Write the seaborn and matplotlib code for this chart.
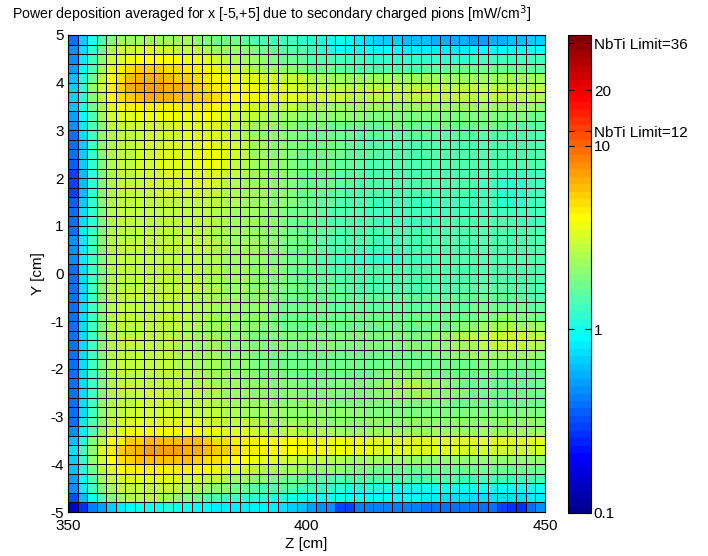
import matplotlib
matplotlib.use("Agg")
import matplotlib.pyplot as plt
from matplotlib.colors import LogNorm, ListedColormap
import seaborn as sns
import numpy as np

# cell edges of the pcolor grid
z_edges = np.linspace(350, 450, 51)
y_edges = np.linspace(-5, 5, 51)

# power deposition [mW/cm^3], one row per Y bin, from Y=+5 (top) down to Y=-5
power_rows = [
    [0.4,0.7,1.1,1.5,1.9,2.2,2.3,2.4,2.4,2.4, 2.3,2.3,2.2,2.1,1.9,1.8,1.8,1.7,1.6,1.5, 1.4,1.3,1.3,1.3,1.2,1.2,1.1,1.0,0.95,0.9, 0.85,0.75,0.7,0.7,0.7,0.65,0.65,0.6,0.55,0.55, 0.55,0.55,0.5,0.5,0.55,0.55,0.6,0.65,0.7,0.7],
    [0.45,0.75,1.2,1.8,2.5,3.0,3.1,3.1,3.2,3.1, 3.0,2.9,2.8,2.7,2.5,2.4,2.3,2.2,2.0,1.9, 1.7,1.6,1.5,1.4,1.4,1.3,1.2,1.1,1.0,1.0, 0.95,0.95,0.9,0.9,0.9,0.85,0.85,0.85,0.85,0.85, 0.85,0.85,0.9,0.9,0.9,0.9,0.95,0.95,1.0,1.0],
    [0.45,0.8,1.3,2.1,3.0,3.5,3.8,4.0,4.1,4.1, 4.0,3.9,3.8,3.6,3.2,3.0,2.8,2.6,2.4,2.2, 2.0,1.9,1.8,1.7,1.6,1.5,1.4,1.4,1.3,1.3, 1.3,1.2,1.2,1.2,1.2,1.2,1.2,1.2,1.2,1.2, 1.2,1.2,1.3,1.3,1.3,1.3,1.3,1.3,1.3,1.3],
    [0.5,0.9,1.5,2.4,3.5,4.3,4.8,5.2,5.3,5.2, 5.0,4.8,4.5,4.3,3.9,3.6,3.3,3.0,2.8,2.6, 2.4,2.2,2.1,2.0,1.9,1.8,1.7,1.7,1.6,1.6, 1.5,1.5,1.5,1.5,1.5,1.5,1.5,1.6,1.6,1.6, 1.7,1.7,1.7,1.7,1.7,1.7,1.7,1.7,1.6,1.6],
    [0.6,1.1,1.8,2.8,4.0,5.0,5.8,6.3,6.5,6.3, 6.0,5.6,5.2,4.9,4.5,4.2,3.9,3.7,3.5,3.3, 3.1,3.0,2.9,2.8,2.7,2.6,2.5,2.4,2.4,2.3, 2.3,2.3,2.2,2.2,2.2,2.2,2.2,2.3,2.3,2.3, 2.3,2.4,2.4,2.4,2.4,2.4,2.3,2.3,2.2,2.2],
    [0.7,1.2,2.0,3.0,4.3,5.3,6.2,6.8,7.0,6.8, 6.5,6.2,5.8,5.4,5.0,4.6,4.3,4.0,3.8,3.6, 3.4,3.3,3.2,3.1,3.0,2.9,2.9,2.8,2.8,2.8, 2.7,2.7,2.7,2.7,2.7,2.7,2.7,2.7,2.8,2.8, 2.8,2.8,2.9,2.9,2.9,2.9,2.9,2.8,2.8,2.7],
    [0.7,1.2,1.9,2.9,4.0,4.8,5.5,6.0,6.2,6.3, 6.2,6.0,5.7,5.5,5.2,4.8,4.5,4.2,4.0,3.8, 3.6,3.5,3.4,3.3,3.2,3.1,3.0,3.0,3.0,2.9, 2.9,2.9,2.9,2.8,2.8,2.8,2.8,2.8,2.8,2.8, 2.8,2.8,2.8,2.8,2.8,2.8,2.7,2.7,2.6,2.6],
    [0.6,1.1,1.7,2.6,3.5,4.0,4.3,4.5,4.6,4.6, 4.6,4.5,4.5,4.4,4.3,4.0,3.7,3.4,3.2,3.1, 3.0,2.9,2.8,2.7,2.6,2.5,2.5,2.4,2.4,2.3, 2.3,2.3,2.3,2.3,2.3,2.3,2.3,2.3,2.3,2.3, 2.3,2.3,2.3,2.3,2.3,2.3,2.2,2.2,2.2,2.1],
    [0.5,0.9,1.5,2.3,3.0,3.3,3.5,3.6,3.6,3.6, 3.6,3.6,3.7,3.8,3.9,3.7,3.4,3.1,2.9,2.7, 2.5,2.4,2.3,2.2,2.1,2.1,2.0,2.0,2.0,2.0, 2.0,1.9,1.9,1.9,1.9,1.9,1.9,1.9,1.9,1.9, 1.9,1.9,1.9,1.9,1.9,1.9,1.9,1.9,1.8,1.8],
    [0.45,0.8,1.4,2.1,2.7,2.9,3.0,3.1,3.1,3.1, 3.1,3.2,3.3,3.4,3.4,3.3,3.1,2.8,2.6,2.4, 2.2,2.1,2.0,2.0,1.9,1.9,1.9,1.8,1.8,1.8, 1.8,1.8,1.7,1.7,1.7,1.7,1.7,1.7,1.7,1.7, 1.7,1.7,1.7,1.7,1.7,1.7,1.7,1.6,1.6,1.6],
    [0.4,0.75,1.3,2.0,2.6,2.8,2.9,2.9,3.0,3.0, 3.0,3.1,3.2,3.3,3.4,3.3,3.1,2.8,2.5,2.3, 2.1,2.0,2.0,1.9,1.9,1.8,1.8,1.7,1.7,1.7, 1.6,1.6,1.6,1.6,1.6,1.6,1.6,1.6,1.6,1.6, 1.6,1.6,1.5,1.5,1.5,1.5,1.4,1.4,1.4,1.4],
    [0.4,0.7,1.3,2.0,2.6,2.8,2.9,3.0,3.0,3.1, 3.2,3.3,3.4,3.5,3.6,3.5,3.3,3.0,2.7,2.4, 2.2,2.1,2.0,1.9,1.9,1.8,1.8,1.7,1.7,1.7, 1.6,1.6,1.6,1.5,1.5,1.5,1.5,1.5,1.5,1.5, 1.5,1.5,1.5,1.5,1.5,1.5,1.4,1.4,1.4,1.4],
    [0.4,0.7,1.2,1.9,2.5,2.8,2.9,3.0,3.1,3.2, 3.3,3.4,3.5,3.7,3.8,3.7,3.4,3.0,2.7,2.4, 2.2,2.1,2.0,1.9,1.8,1.8,1.7,1.7,1.7,1.6, 1.6,1.6,1.5,1.5,1.5,1.5,1.5,1.5,1.5,1.5, 1.5,1.5,1.5,1.5,1.5,1.4,1.4,1.4,1.4,1.4],
    [0.35,0.7,1.2,1.9,2.5,2.8,2.9,3.0,3.1,3.2, 3.3,3.4,3.5,3.7,3.8,3.6,3.3,2.9,2.6,2.4, 2.2,2.1,2.0,1.9,1.8,1.8,1.7,1.7,1.6,1.6, 1.6,1.5,1.5,1.5,1.5,1.5,1.5,1.5,1.5,1.5, 1.5,1.5,1.5,1.4,1.4,1.4,1.4,1.4,1.4,1.4],
    [0.3,0.65,1.2,1.9,2.5,2.8,2.9,3.0,3.0,3.1, 3.2,3.3,3.4,3.5,3.5,3.3,3.0,2.7,2.5,2.3, 2.2,2.1,2.0,1.9,1.8,1.8,1.7,1.7,1.6,1.6, 1.6,1.5,1.5,1.5,1.5,1.5,1.5,1.5,1.5,1.5, 1.4,1.4,1.4,1.4,1.4,1.3,1.3,1.3,1.3,1.3],
    [0.3,0.65,1.2,1.9,2.5,2.8,2.9,2.9,3.0,3.0, 3.1,3.1,3.2,3.2,3.2,3.0,2.8,2.6,2.4,2.3, 2.2,2.1,2.0,1.9,1.8,1.8,1.7,1.7,1.6,1.6, 1.5,1.5,1.5,1.5,1.5,1.5,1.5,1.5,1.4,1.4, 1.4,1.4,1.4,1.3,1.3,1.2,1.2,1.2,1.3,1.3],
    [0.3,0.65,1.2,1.9,2.5,2.8,2.9,2.9,2.9,3.0, 3.0,3.0,3.0,3.0,2.9,2.8,2.6,2.5,2.4,2.3, 2.2,2.1,2.0,1.9,1.8,1.7,1.7,1.6,1.6,1.5, 1.5,1.5,1.5,1.4,1.4,1.4,1.4,1.4,1.4,1.4, 1.4,1.4,1.3,1.3,1.3,1.2,1.2,1.2,1.3,1.3],
    [0.35,0.7,1.2,1.9,2.5,2.7,2.8,2.9,2.9,2.9, 2.9,2.9,2.9,2.9,2.8,2.7,2.6,2.5,2.4,2.3, 2.2,2.1,2.0,1.9,1.8,1.7,1.6,1.6,1.5,1.5, 1.4,1.4,1.3,1.3,1.3,1.3,1.3,1.3,1.3,1.3, 1.3,1.3,1.3,1.3,1.3,1.2,1.2,1.2,1.3,1.3],
    [0.4,0.75,1.2,1.9,2.5,2.7,2.8,2.8,2.9,2.9, 2.9,2.9,2.9,2.8,2.7,2.6,2.5,2.4,2.3,2.2, 2.1,2.0,1.9,1.8,1.7,1.7,1.6,1.5,1.5,1.4, 1.4,1.3,1.3,1.3,1.3,1.3,1.3,1.3,1.3,1.3, 1.3,1.3,1.3,1.3,1.3,1.3,1.3,1.3,1.3,1.3],
    [0.4,0.75,1.2,1.9,2.5,2.7,2.8,2.9,2.9,2.9, 2.9,2.9,2.8,2.8,2.7,2.6,2.5,2.4,2.3,2.2, 2.1,2.0,1.9,1.8,1.7,1.7,1.6,1.5,1.5,1.4, 1.4,1.4,1.3,1.3,1.3,1.3,1.3,1.3,1.3,1.4, 1.4,1.4,1.4,1.4,1.4,1.4,1.4,1.3,1.3,1.3],
    [0.4,0.8,1.3,1.9,2.5,2.7,2.8,2.9,2.9,2.9, 2.9,2.9,2.8,2.8,2.7,2.6,2.5,2.4,2.3,2.2, 2.1,2.0,1.9,1.8,1.8,1.7,1.6,1.6,1.5,1.5, 1.4,1.4,1.4,1.4,1.4,1.4,1.4,1.4,1.4,1.4, 1.4,1.4,1.4,1.4,1.4,1.4,1.4,1.4,1.4,1.4],
    [0.45,0.8,1.3,1.9,2.5,2.7,2.8,2.9,2.9,2.9, 2.9,2.9,2.9,2.8,2.7,2.6,2.5,2.4,2.3,2.2, 2.1,2.0,1.9,1.8,1.8,1.7,1.6,1.5,1.5,1.4, 1.4,1.4,1.3,1.3,1.3,1.4,1.4,1.4,1.4,1.4, 1.4,1.4,1.4,1.4,1.4,1.4,1.4,1.4,1.4,1.4],
    [0.45,0.85,1.3,1.9,2.5,2.7,2.8,2.9,2.9,2.9, 2.9,2.9,2.8,2.8,2.7,2.6,2.5,2.4,2.3,2.2, 2.1,2.0,1.9,1.8,1.8,1.7,1.6,1.5,1.4,1.4, 1.3,1.3,1.3,1.3,1.3,1.3,1.4,1.4,1.4,1.4, 1.4,1.4,1.4,1.4,1.4,1.4,1.4,1.4,1.4,1.4],
    [0.45,0.8,1.3,1.9,2.5,2.7,2.8,2.9,2.9,2.9, 2.9,2.8,2.8,2.7,2.6,2.5,2.4,2.3,2.2,2.1, 2.0,1.9,1.9,1.8,1.7,1.6,1.5,1.4,1.3,1.3, 1.2,1.2,1.2,1.2,1.2,1.3,1.3,1.3,1.4,1.4, 1.4,1.4,1.4,1.4,1.4,1.4,1.4,1.4,1.4,1.4],
    [0.4,0.75,1.3,1.9,2.5,2.7,2.8,2.9,2.9,2.9, 2.9,2.8,2.8,2.7,2.6,2.5,2.4,2.3,2.2,2.1, 2.0,2.0,1.9,1.8,1.7,1.7,1.6,1.5,1.5,1.4, 1.4,1.4,1.4,1.4,1.4,1.4,1.4,1.4,1.4,1.4, 1.4,1.4,1.4,1.4,1.4,1.4,1.4,1.4,1.4,1.4],
    [0.4,0.75,1.3,1.9,2.5,2.7,2.8,2.9,2.9,2.9, 2.9,2.8,2.8,2.7,2.6,2.5,2.4,2.3,2.2,2.1, 2.0,1.9,1.9,1.8,1.7,1.7,1.6,1.6,1.5,1.5, 1.5,1.5,1.5,1.5,1.5,1.5,1.5,1.5,1.5,1.5, 1.5,1.5,1.5,1.5,1.5,1.5,1.5,1.5,1.4,1.4],
    [0.4,0.75,1.3,1.9,2.5,2.7,2.8,2.9,2.9,2.9, 2.9,2.8,2.8,2.7,2.6,2.5,2.4,2.3,2.2,2.1, 2.0,1.9,1.9,1.8,1.8,1.7,1.7,1.6,1.6,1.6, 1.5,1.5,1.5,1.5,1.5,1.5,1.5,1.5,1.5,1.5, 1.5,1.6,1.6,1.6,1.6,1.6,1.6,1.5,1.5,1.5],
    [0.4,0.75,1.3,1.9,2.5,2.7,2.8,2.8,2.9,2.9, 2.8,2.8,2.7,2.6,2.5,2.4,2.3,2.2,2.1,2.0, 2.0,1.9,1.8,1.8,1.7,1.7,1.6,1.6,1.6,1.6, 1.6,1.6,1.6,1.6,1.6,1.6,1.6,1.6,1.6,1.6, 1.6,1.6,1.6,1.6,1.6,1.6,1.6,1.6,1.5,1.5],
    [0.4,0.75,1.3,1.9,2.5,2.7,2.8,2.8,2.9,2.9, 2.8,2.8,2.7,2.6,2.5,2.4,2.3,2.2,2.1,2.0, 2.0,1.9,1.8,1.8,1.7,1.7,1.7,1.6,1.6,1.6, 1.6,1.6,1.6,1.6,1.6,1.6,1.6,1.6,1.6,1.6, 1.6,1.6,1.7,1.7,1.7,1.7,1.7,1.7,1.6,1.6],
    [0.4,0.75,1.3,1.9,2.5,2.7,2.8,2.8,2.9,2.9, 2.8,2.7,2.7,2.6,2.5,2.4,2.3,2.2,2.1,2.0, 2.0,1.9,1.8,1.8,1.7,1.7,1.7,1.7,1.7,1.7, 1.7,1.7,1.7,1.7,1.7,1.7,1.7,1.7,1.7,1.7, 1.7,1.8,1.8,1.9,1.9,2.0,2.0,1.9,1.9,1.8],
    [0.4,0.75,1.3,1.9,2.5,2.7,2.8,2.8,2.8,2.8, 2.8,2.7,2.6,2.5,2.4,2.3,2.2,2.1,2.0,2.0, 1.9,1.9,1.8,1.8,1.8,1.8,1.8,1.8,1.8,1.8, 1.8,1.8,1.8,1.8,1.8,1.8,1.8,1.8,1.8,1.8, 1.9,2.0,2.1,2.3,2.4,2.5,2.5,2.4,2.3,2.2],
    [0.4,0.75,1.3,1.9,2.5,2.7,2.8,2.8,2.8,2.8, 2.7,2.6,2.5,2.4,2.3,2.2,2.1,2.0,2.0,1.9, 1.9,1.9,1.9,1.9,1.9,1.9,1.9,1.9,1.9,1.9, 1.9,1.9,1.9,1.9,1.9,1.9,1.9,1.9,2.0,2.1, 2.3,2.5,2.7,2.9,3.0,3.1,3.1,3.0,2.9,2.7],
    [0.4,0.75,1.3,1.9,2.5,2.7,2.8,2.8,2.8,2.8, 2.7,2.6,2.5,2.4,2.3,2.2,2.1,2.0,2.0,1.9, 1.9,1.9,1.9,1.9,1.9,1.9,1.9,1.9,1.9,1.9, 1.9,1.9,1.9,1.9,1.9,1.9,1.9,1.9,2.0,2.1, 2.2,2.4,2.6,2.8,2.9,3.0,3.0,2.9,2.8,2.6],
    [0.4,0.75,1.3,1.9,2.5,2.7,2.8,2.8,2.8,2.8, 2.7,2.6,2.5,2.4,2.3,2.2,2.1,2.0,2.0,1.9, 1.9,1.8,1.8,1.8,1.8,1.8,1.8,1.8,1.8,1.8, 1.8,1.8,1.8,1.8,1.8,1.8,1.8,1.8,1.9,1.9, 2.0,2.1,2.2,2.3,2.4,2.4,2.4,2.3,2.2,2.1],
    [0.4,0.75,1.3,1.9,2.5,2.7,2.8,2.8,2.8,2.8, 2.7,2.6,2.5,2.4,2.3,2.2,2.1,2.0,2.0,1.9, 1.9,1.8,1.8,1.8,1.8,1.8,1.8,1.8,1.8,1.8, 1.8,1.8,1.8,1.8,1.8,1.8,1.8,1.8,1.8,1.8, 1.8,1.8,1.8,1.9,1.9,1.9,1.9,1.8,1.8,1.8],
    [0.4,0.75,1.3,1.9,2.5,2.7,2.8,2.8,2.9,2.9, 2.8,2.7,2.6,2.5,2.4,2.3,2.2,2.1,2.0,2.0, 1.9,1.9,1.8,1.8,1.8,1.8,1.8,1.8,1.8,1.8, 1.8,1.8,1.9,1.9,2.0,2.0,2.0,1.9,1.8,1.8, 1.7,1.7,1.7,1.7,1.7,1.7,1.7,1.7,1.7,1.7],
    [0.4,0.75,1.3,1.9,2.5,2.7,2.8,2.9,2.9,2.9, 2.9,2.8,2.7,2.6,2.5,2.4,2.3,2.2,2.1,2.0, 2.0,1.9,1.9,1.9,1.9,1.9,1.9,1.9,1.9,1.9, 1.9,1.9,2.0,2.2,2.4,2.6,2.6,2.4,2.2,2.0, 1.9,1.8,1.8,1.7,1.7,1.7,1.7,1.7,1.7,1.7],
    [0.4,0.75,1.3,1.9,2.5,2.8,2.9,2.9,3.0,3.0, 2.9,2.9,2.8,2.7,2.6,2.5,2.4,2.3,2.2,2.1, 2.1,2.0,2.0,2.0,1.9,1.9,1.9,1.9,1.9,1.9, 1.9,1.9,2.0,2.1,2.2,2.3,2.3,2.2,2.1,2.0, 1.9,1.9,1.8,1.8,1.8,1.8,1.8,1.8,1.8,1.8],
    [0.4,0.75,1.3,2.0,2.6,2.8,2.9,3.0,3.0,3.0, 3.0,2.9,2.9,2.8,2.7,2.6,2.5,2.4,2.3,2.2, 2.2,2.1,2.1,2.0,2.0,2.0,2.0,1.9,1.9,1.9, 1.9,1.9,1.9,1.9,1.9,1.9,1.9,1.9,1.9,1.9, 1.8,1.8,1.8,1.8,1.8,1.8,1.8,1.8,1.8,1.8],
    [0.4,0.75,1.3,2.0,2.6,2.9,3.0,3.0,3.1,3.1, 3.1,3.0,3.0,2.9,2.8,2.7,2.6,2.5,2.4,2.3, 2.3,2.2,2.2,2.1,2.1,2.1,2.0,2.0,2.0,2.0, 2.0,1.9,1.9,1.9,1.9,1.9,1.9,1.9,1.9,1.9, 1.9,1.9,1.9,1.9,1.9,1.9,1.9,1.9,1.9,1.9],
    [0.4,0.8,1.4,2.1,2.8,3.1,3.2,3.3,3.4,3.4, 3.4,3.4,3.3,3.2,3.1,3.0,2.9,2.8,2.7,2.6, 2.5,2.4,2.4,2.3,2.3,2.2,2.2,2.1,2.1,2.1, 2.0,2.0,2.0,2.0,2.0,2.0,2.0,2.0,2.0,2.0, 2.0,2.0,2.0,2.0,2.0,2.0,2.0,2.0,2.0,2.0],
    [0.45,0.85,1.5,2.3,3.0,3.4,3.6,3.8,3.9,4.0, 4.0,4.0,4.0,3.9,3.8,3.7,3.5,3.4,3.2,3.1, 3.0,2.9,2.8,2.7,2.6,2.6,2.5,2.5,2.4,2.4, 2.4,2.3,2.3,2.3,2.3,2.3,2.3,2.2,2.2,2.2, 2.2,2.2,2.2,2.2,2.2,2.2,2.2,2.2,2.2,2.2],
    [0.6,1.1,1.9,2.9,3.9,4.6,5.2,5.6,5.9,6.0, 6.1,6.0,5.9,5.7,5.4,5.1,4.8,4.6,4.4,4.3, 4.2,4.1,4.0,3.9,3.9,3.8,3.8,3.7,3.7,3.6, 3.6,3.5,3.5,3.5,3.4,3.4,3.4,3.3,3.3,3.3, 3.3,3.2,3.2,3.2,3.2,3.2,3.2,3.2,3.2,3.3],
    [0.75,1.3,2.1,3.2,4.3,5.2,6.0,6.5,6.8,7.0, 7.0,6.9,6.7,6.4,6.0,5.6,5.2,4.9,4.6,4.4, 4.3,4.2,4.1,4.0,4.0,3.9,3.9,3.8,3.7,3.7, 3.6,3.6,3.5,3.5,3.4,3.4,3.3,3.3,3.2,3.2, 3.2,3.1,3.1,3.1,3.1,3.1,3.1,3.1,3.1,3.1],
    [0.7,1.2,2.0,3.0,4.0,4.8,5.4,5.8,6.0,6.1, 6.0,5.9,5.7,5.4,5.1,4.8,4.5,4.2,3.9,3.7, 3.5,3.3,3.1,3.0,2.9,2.8,2.7,2.6,2.5,2.4, 2.4,2.3,2.3,2.2,2.2,2.2,2.1,2.1,2.1,2.1, 2.1,2.1,2.1,2.1,2.1,2.1,2.1,2.1,2.1,2.1],
    [0.6,1.1,1.8,2.7,3.5,4.0,4.3,4.5,4.6,4.6, 4.5,4.4,4.3,4.1,3.9,3.6,3.4,3.2,3.0,2.8, 2.6,2.5,2.4,2.3,2.2,2.1,2.1,2.0,2.0,1.9, 1.9,1.9,1.8,1.8,1.8,1.8,1.8,1.8,1.8,1.8, 1.8,1.8,1.8,1.8,1.8,1.8,1.8,1.8,1.8,1.8],
    [0.5,0.9,1.5,2.2,2.8,3.1,3.3,3.4,3.4,3.4, 3.3,3.2,3.1,3.0,2.9,2.7,2.6,2.4,2.3,2.1, 2.0,1.9,1.8,1.7,1.7,1.6,1.6,1.5,1.5,1.5, 1.4,1.4,1.4,1.4,1.4,1.4,1.4,1.4,1.4,1.4, 1.4,1.3,1.3,1.3,1.3,1.3,1.3,1.3,1.3,1.3],
    [0.45,0.8,1.3,1.9,2.4,2.7,2.8,2.9,2.9,2.9, 2.8,2.7,2.6,2.5,2.3,2.1,2.0,1.8,1.7,1.6, 1.5,1.5,1.4,1.4,1.3,1.3,1.2,1.2,1.2,1.1, 1.1,1.1,1.1,1.1,1.0,1.0,1.0,1.0,1.0,1.0, 1.0,1.0,1.0,1.0,1.0,1.0,1.0,1.0,1.0,1.0],
    [0.32,0.65,0.95,1.4,1.9,2.3,2.5,2.6,2.6,2.5, 2.2,2.0,1.9,1.8,1.5,1.4,1.3,1.3,1.2,1.2, 1.2,1.1,1.1,1.0,1.0,1.0,0.95,0.95,0.95,0.95, 0.95,0.9,0.9,0.9,0.9,0.9,0.9,0.8,0.8,0.75, 0.75,0.75,0.75,0.75,0.75,0.75,0.75,0.75,0.8,0.8],
    [0.15,0.27,0.42,0.5,0.7,0.85,0.9,0.95,0.95,1.0, 1.05,1.0,0.95,0.9,0.9,0.85,0.85,0.85,0.85,0.8, 0.8,0.8,0.75,0.7,0.6,0.5,0.45,0.45,0.3,0.3, 0.42,0.42,0.42,0.42,0.42,0.42,0.42,0.4,0.4,0.4, 0.4,0.4,0.4,0.4,0.4,0.3,0.28,0.28,0.4,0.45],
]

z_ticks = [350, 400, 450]
y_ticks = [5, 4, 3, 2, 1, 0, -1, -2, -3, -4, -5]
cbar_ticks = [0.1, 1, 10, 12, 20, 36]
cbar_labels = ["0.1", "1", "10", "NbTi Limit=12", "20", "NbTi Limit=36"]
c_min, c_max = 0.1, 40


def matlab_jet(m=64):
    # same construction as MATLAB's jet(m)
    n = int(np.ceil(m / 4))
    u = np.concatenate([np.arange(1, n + 1) / n, np.ones(n - 1), np.arange(n, 0, -1) / n])
    g = int(np.ceil(n / 2)) - (1 if m % 4 == 1 else 0) + np.arange(1, len(u) + 1)
    rgb = np.zeros((m, 3))
    for ch, idx in enumerate([g + n, g, g - n]):
        keep = (idx >= 1) & (idx <= m)
        rgb[idx[keep] - 1, ch] = u[keep]
    return ListedColormap(rgb)


plt.rcParams["font.family"] = ["Liberation Sans", "DejaVu Sans"]

power = np.array(power_rows)

fig = plt.figure(figsize=(7.08, 5.56), dpi=100)
ax = fig.add_axes([68 / 708, 1 - 512 / 556, 477 / 708, 477 / 556])
cax = fig.add_axes([568 / 708, 1 - 513 / 556, 23 / 708, 478 / 556])

sns.heatmap(power, ax=ax, cbar_ax=cax, cmap=matlab_jet(64), norm=LogNorm(c_min, c_max),
            linewidths=0.7, linecolor="black",
            xticklabels=False, yticklabels=False)

for sp in ax.spines.values():
    sp.set_visible(True)
    sp.set_color("black")
    sp.set_linewidth(0.8)

# heatmap cells sit at 0..50 on both axes, row 0 at the top
col_idx = np.arange(len(z_edges))
ax.set_xticks(np.interp(z_ticks, z_edges, col_idx), labels=[str(z) for z in z_ticks],
              rotation=0)
ax.set_yticks(np.interp(y_ticks, y_edges, col_idx[::-1]), labels=[str(y) for y in y_ticks],
              rotation=0)
ax.tick_params(direction="in", length=3, labelsize=11, bottom=True, left=True)
ax.tick_params(axis="x", pad=5)
ax.tick_params(axis="y", pad=3)
ax.set_xlabel("Z [cm]", fontsize=11, labelpad=3)
ax.set_ylabel("Y [cm]", fontsize=11, labelpad=4)

cb = ax.collections[0].colorbar
cb.set_ticks(cbar_ticks, labels=cbar_labels)
cb.minorticks_off()
cb.outline.set_linewidth(0.8)
cb.outline.set_edgecolor("black")
cax.tick_params(direction="in", length=4, left=True, right=True, labelsize=11, pad=2)

fig.text(12 / 708, 1 - 14 / 556,
         "Power deposition averaged for x [-5,+5] due to secondary charged pions [mW/cm$^3$]",
         fontsize=10.2, va="center", ha="left")

fig.savefig("out.png", dpi=100)
plt.close(fig)
